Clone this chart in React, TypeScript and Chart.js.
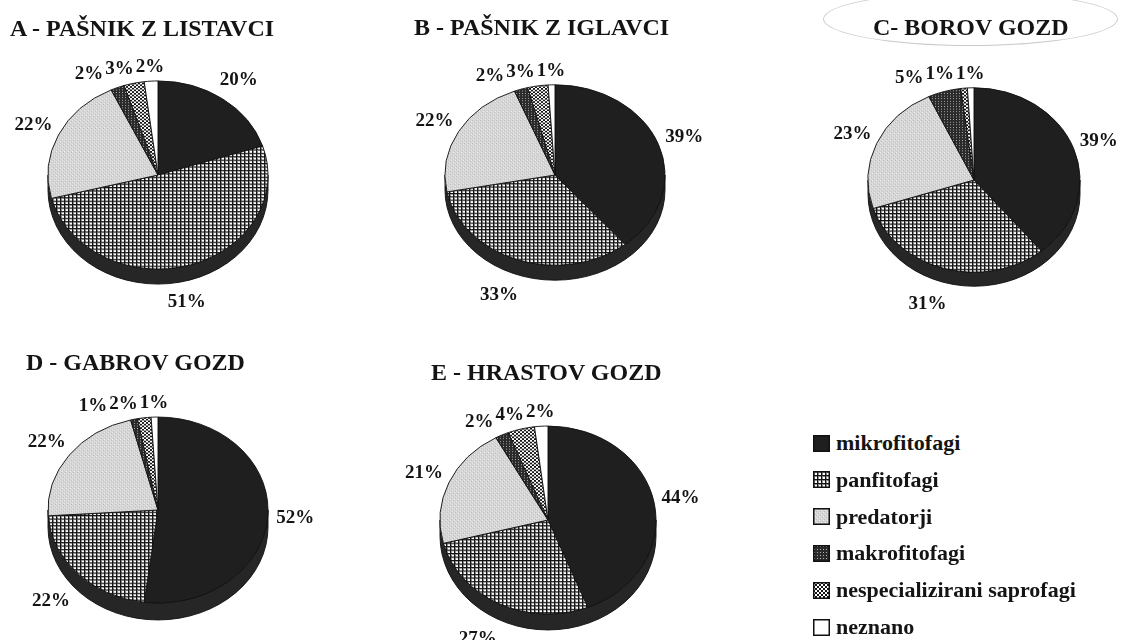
import React, { useEffect, useRef } from "react";
import { Chart, registerables } from "chart.js";
Chart.register(...registerables);

// ---------- data ----------
const categories = [
  "mikrofitofagi",
  "panfitofagi",
  "predatorji",
  "makrofitofagi",
  "nespecializirani saprofagi",
  "neznano",
];
const panelTitles = [
  "A - PAŠNIK Z LISTAVCI",
  "B - PAŠNIK Z IGLAVCI",
  "C- BOROV GOZD",
  "D - GABROV GOZD",
  "E - HRASTOV GOZD",
];
const valuesA = [20, 51, 22, 2, 3, 2];
const valuesB = [39, 33, 22, 2, 3, 1];
const valuesC = [39, 31, 23, 5, 1, 1];
const valuesD = [52, 22, 22, 1, 2, 1];
const valuesE = [44, 27, 21, 2, 4, 2];
const seriesValues = [valuesA, valuesB, valuesC, valuesD, valuesE];

// ---------- layout / style ----------
const FONT = '"Liberation Serif", "Times New Roman", Times, serif';
const CW = 380;
const CH = 340;
const layouts = [
  { cx: 158, cy: 175, r: 110, sy: 0.855, depth: 15, tx: 10, ty: 16 },
  { cx: 555, cy: 175, r: 110, sy: 0.82, depth: 15, tx: 414, ty: 15 },
  { cx: 974, cy: 180, r: 106, sy: 0.87, depth: 14, tx: 873, ty: 15 },
  { cx: 158, cy: 510, r: 110, sy: 0.845, depth: 17, tx: 26, ty: 350 },
  { cx: 548, cy: 520, r: 108, sy: 0.87, depth: 16, tx: 431, ty: 360 },
];

function patternCanvas(w: number, h: number, draw: (c: CanvasRenderingContext2D) => void) {
  const c = document.createElement("canvas");
  c.width = w;
  c.height = h;
  const g = c.getContext("2d")!;
  draw(g);
  return c;
}

function makePatterns(ctx: CanvasRenderingContext2D): (CanvasPattern | string)[] {
  const mikro = "#1f1f1f";
  const pan = patternCanvas(4, 4, (g) => {
    g.fillStyle = "#ffffff";
    g.fillRect(0, 0, 4, 4);
    g.fillStyle = "#8a8a8a";
    g.fillRect(0, 1, 4, 1);
    g.fillRect(1, 0, 1, 4);
    g.fillStyle = "#141414";
    g.fillRect(0, 0, 4, 1);
    g.fillRect(0, 0, 1, 4);
  });
  const pred = patternCanvas(4, 4, (g) => {
    g.fillStyle = "#d6d6d6";
    g.fillRect(0, 0, 4, 4);
    g.fillStyle = "#bdbdbd";
    g.fillRect(1, 1, 1, 1);
    g.fillRect(3, 3, 1, 1);
    g.fillStyle = "#ececec";
    g.fillRect(0, 2, 1, 1);
    g.fillRect(2, 0, 1, 1);
  });
  const makro = patternCanvas(3, 3, (g) => {
    g.fillStyle = "#2a2a2a";
    g.fillRect(0, 0, 3, 3);
    g.fillStyle = "#b0b0b0";
    g.fillRect(1, 1, 1, 1);
  });
  const nesp = patternCanvas(4, 4, (g) => {
    g.fillStyle = "#ffffff";
    g.fillRect(0, 0, 4, 4);
    g.fillStyle = "#151515";
    g.fillRect(0, 0, 2, 2);
    g.fillRect(2, 2, 2, 2);
  });
  return [
    mikro,
    ctx.createPattern(pan, "repeat")!,
    ctx.createPattern(pred, "repeat")!,
    ctx.createPattern(makro, "repeat")!,
    ctx.createPattern(nesp, "repeat")!,
    "#ffffff",
  ];
}

const pie3dPlugin = {
  id: "pie3d",
  beforeDatasetsDraw(chart: any, _args: any, opts: any) {
    const arcs = chart.getDatasetMeta(0).data as any[];
    if (!arcs.length) return;
    const { x, y, outerRadius: r } = arcs[0].getProps(["x", "y", "outerRadius"], true);
    const ctx: CanvasRenderingContext2D = chart.ctx;
    ctx.save();
    ctx.translate(x, y);
    ctx.scale(1, opts.sy);
    ctx.translate(-x, -y);
    const d = opts.depth / opts.sy;
    ctx.beginPath();
    ctx.moveTo(x - r, y);
    ctx.lineTo(x - r, y + d);
    ctx.arc(x, y + d, r, Math.PI, 0, true);
    ctx.lineTo(x + r, y);
    ctx.arc(x, y, r, 0, Math.PI, false);
    ctx.closePath();
    ctx.fillStyle = "#262626";
    ctx.fill();
    ctx.lineWidth = 1;
    ctx.strokeStyle = "#111";
    ctx.stroke();
  },
  afterDatasetsDraw(chart: any) {
    chart.ctx.restore();
  },
  afterDraw(chart: any, _args: any, opts: any) {
    const arcs = chart.getDatasetMeta(0).data as any[];
    const values = chart.data.datasets[0].data as number[];
    const ctx: CanvasRenderingContext2D = chart.ctx;
    ctx.save();
    ctx.font = `bold 19px ${FONT}`;
    const items = arcs.map((a, i) => {
      const p = a.getProps(["x", "y", "startAngle", "endAngle", "outerRadius"], true);
      const mid = (p.startAngle + p.endAngle) / 2;
      const small = values[i] < 6;
      const k = small ? 1.15 : 1.25;
      const c = Math.cos(mid);
      const s = Math.sin(mid);
      return {
        text: `${values[i]}%`,
        small,
        lx: p.x + p.outerRadius * k * c - (s > 0.5 ? 10 * s : 0),
        ly: p.y + p.outerRadius * k * opts.sy * s + (s > 0 ? opts.depth * s : 0),
      };
    });
    const smalls = items.filter((o) => o.small).sort((a, b) => b.lx - a.lx);
    for (let j = 1; j < smalls.length; j++) {
      const prev = smalls[j - 1];
      const cur = smalls[j];
      const gap = (ctx.measureText(prev.text).width + ctx.measureText(cur.text).width) / 2 + 2;
      if (cur.lx > prev.lx - gap) cur.lx = prev.lx - gap;
    }
    ctx.fillStyle = "#141414";
    ctx.textAlign = "center";
    ctx.textBaseline = "middle";
    items.forEach((o) => ctx.fillText(o.text, o.lx, o.ly));
    ctx.restore();
  },
};

function PiePanel({ values, layout }: { values: number[]; layout: (typeof layouts)[number] }) {
  const ref = useRef<HTMLCanvasElement>(null);
  useEffect(() => {
    const canvas = ref.current!;
    const pats = makePatterns(canvas.getContext("2d")!);
    const chart = new Chart(canvas, {
      type: "pie",
      data: {
        labels: categories,
        datasets: [
          {
            data: values,
            backgroundColor: pats as any,
            borderColor: "#111111",
            borderWidth: 1,
            radius: layout.r,
          } as any,
        ],
      },
      options: {
        responsive: false,
        animation: false,
        devicePixelRatio: 1,
        events: [],
        layout: { padding: 0 },
        plugins: {
          legend: { display: false },
          tooltip: { enabled: false },
          title: { display: false },
          pie3d: { sy: layout.sy, depth: layout.depth },
        } as any,
      },
      plugins: [pie3dPlugin as any],
    });
    return () => chart.destroy();
  }, []);
  return (
    <canvas
      ref={ref}
      width={CW}
      height={CH}
      style={{
        position: "absolute",
        left: layout.cx - CW / 2,
        top: layout.cy - CH / 2,
        width: CW,
        height: CH,
      }}
    />
  );
}

function LegendSwatch({ index }: { index: number }) {
  const ref = useRef<HTMLCanvasElement>(null);
  useEffect(() => {
    const c = ref.current!;
    const g = c.getContext("2d")!;
    const pats = makePatterns(g);
    g.clearRect(0, 0, 17, 17);
    g.fillStyle = pats[index] as any;
    g.fillRect(0, 0, 17, 17);
    g.strokeStyle = "#111";
    g.lineWidth = 1.5;
    g.strokeRect(0.75, 0.75, 15.5, 15.5);
  }, []);
  return <canvas ref={ref} width={17} height={17} style={{ width: 17, height: 17, display: "block" }} />;
}

export default function App() {
  return (
    <div
      style={{
        position: "fixed",
        left: 0,
        top: 0,
        width: 1124,
        height: 640,
        overflow: "hidden",
        background: "#ffffff",
        fontFamily: FONT,
        color: "#141414",
      }}
    >
      <div
        style={{
          position: "absolute",
          left: 823,
          top: -8,
          width: 295,
          height: 54,
          border: "1.5px solid #c9c9c9",
          borderRadius: "50%",
          boxSizing: "border-box",
        }}
      />
      {layouts.map((l, i) => (
        <React.Fragment key={i}>
          <PiePanel values={seriesValues[i]} layout={l} />
          <div
            style={{
              position: "absolute",
              left: l.tx,
              top: l.ty,
              fontSize: 24,
              lineHeight: "24px",
              fontWeight: "bold",
              whiteSpace: "nowrap",
            }}
          >
            {panelTitles[i]}
          </div>
        </React.Fragment>
      ))}
      {categories.map((c, i) => (
        <div
          key={c}
          style={{
            position: "absolute",
            left: 813,
            top: 443 + i * 36.8 - 12,
            height: 24,
            display: "flex",
            alignItems: "center",
            whiteSpace: "nowrap",
          }}
        >
          <LegendSwatch index={i} />
          <span style={{ marginLeft: 6, fontSize: 22, fontWeight: "bold", lineHeight: "24px" }}>{c}</span>
        </div>
      ))}
    </div>
  );
}
